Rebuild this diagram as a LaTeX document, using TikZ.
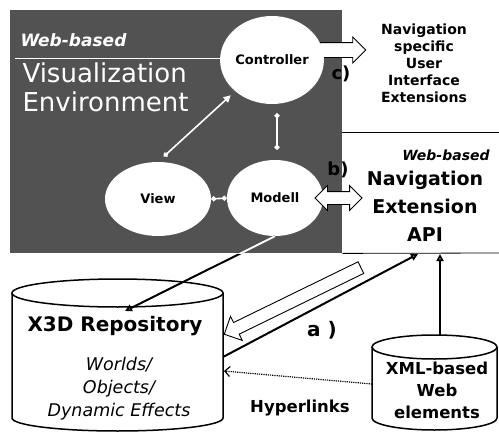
\documentclass[tikz,border=0pt]{standalone}
\usepackage{fontspec}
\setmainfont{DejaVu Sans}
\usetikzlibrary{arrows.meta,shapes.geometric,shapes.arrows}

\newcommand{\sz}[2]{\fontsize{#1}{#2}\selectfont}

\begin{document}
\begin{tikzpicture}[x=1pt, y=-1pt,
  bubble/.style = {ellipse, fill=white, inner sep=0pt,
    font=\bfseries\sz{13}{15}},
  mvc link/.style = {white, line width=1.6pt,
    {Circle[length=5pt]}-{Circle[length=5pt]}},
  link/.style = {line width=1.4pt,
    -{Triangle[open, length=7pt, width=7pt]}},
  fat arrow/.style = {draw, fill=white, line width=.9pt, inner xsep=0pt},
  cyl/.style = {draw, fill=white, line width=1.5pt}]
  \useasboundingbox (0,0) rectangle (499,434);

  \node[fill=black!68, inner sep=0pt, minimum width=332, minimum height=243,
    anchor=north west] (panel) at (10,10) {};
  \node[white, anchor=west, font=\bfseries\itshape\sz{17}{20}] (webviz) at (17,40) {Web-based};
  \draw[white, line width=.8pt] (15,58) -- (230,58);
  \node[white, anchor=west, font=\sz{26}{30}] (vis) at (19,73) {Visualization};
  \node[white, anchor=west, font=\sz{26}{30}] (env) at (19,102) {Environment};

  \node[single arrow, fat arrow, minimum height=46, inner ysep=7pt,
    single arrow head extend=5.5pt] (ui arrow) at (339,50) {};
  \node[bubble, minimum width=98, minimum height=88] (ctrl) at (272,60) {Controller};
  \node[bubble, minimum width=106, minimum height=74] (view) at (158,199) {View};
  \node[bubble, minimum width=96, minimum height=76] (model) at (275,198) {Modell};
  \node[double arrow, fat arrow, minimum height=47, inner ysep=6pt,
    double arrow head extend=6pt] (api arrow) at (338.5,198) {};

  \draw[mvc link, shorten <=9, shorten >=10] ([xshift=5]ctrl.south) -- ([xshift=2]model.north);
  \draw[mvc link] (view.east) -- (model.west);
  \draw[mvc link, {Circle[length=5pt]}-{Triangle[length=7pt, width=7pt]},
    shorten <=8, shorten >=6] (view.north) -- (ctrl.south west);

  \node[font=\bfseries\sz{18}{20}] (c label) at (341,74) {c)};
  \node[font=\bfseries\sz{18}{20}] (b label) at (338,170) {b)};

  \node[align=center, font=\bfseries\sz{14}{17}] (ui ext) at (424,63)
    {Navigation\\specific\\User\\Interface\\Extensions};
  \draw[line width=.8pt] (342,132) -- (499,132);
  \node[font=\bfseries\itshape\sz{14}{17}] (webnav) at (446,155) {Web-based};
  \node[align=center, font=\bfseries\sz{19}{28}] (api) at (425,206)
    {Navigation\\Extension\\API};
  \draw[line width=.8pt] (panel.south east) -- (499,253);

  \draw[cyl] (12,293) -- (12,418) arc[start angle=180, end angle=0,
    x radius=105.5, y radius=13] -- (223,293);
  \draw[cyl] (117.5,293) ellipse[x radius=105.5, y radius=14];
  \draw[cyl] (372,347) -- (372,418) arc[start angle=180, end angle=0,
    x radius=62.5, y radius=12] -- (497,347);
  \draw[cyl] (434.5,347) ellipse[x radius=62.5, y radius=12];

  \coordinate (x3d top) at (125,311);
  \coordinate (x3d side) at (223,357);
  \coordinate (x3d link) at (224,371);
  \coordinate (xml top) at (440,335);
  \coordinate (xml side) at (372,384);
  \coordinate (api in) at (418,254);
  \coordinate (api xml) at (440,254);

  \node[font=\bfseries\sz{20}{24}] (repo) at (115,326) {X3D Repository};
  \node[align=center, font=\itshape\sz{17.5}{23}] (content) at (119,389)
    {Worlds/\\Objects/\\Dynamic Effects};
  \node[align=center, font=\bfseries\sz{16.5}{22}] (xml) at (437,390)
    {XML-based\\Web\\elements};
  \node[font=\bfseries\sz{16.5}{20}] (hyper) at (300,408) {Hyperlinks};
  \node[font=\bfseries\sz{20}{24}] (a label) at (322,330) {a )};

  \draw[link, line width=2pt] (model.south) -- (x3d top);
  \begin{scope}
    \clip (panel.north west) rectangle (panel.south east);
    \draw[white, line width=2pt] (model.south) -- (x3d top);
  \end{scope}
  \draw[link, line width=2pt] (x3d side) -- (api in);
  \draw[link, line width=2pt] (xml top) -- (api xml);
  \draw[densely dotted, line width=1.2pt, -{Straight Barb[length=5pt]}]
    (xml side) -- (x3d link);
  \node[single arrow, fat arrow, rotate=206, minimum height=152, inner ysep=6pt,
    single arrow head extend=7pt] (update arrow) at (295.5,299.5) {};
\end{tikzpicture}
\end{document}
